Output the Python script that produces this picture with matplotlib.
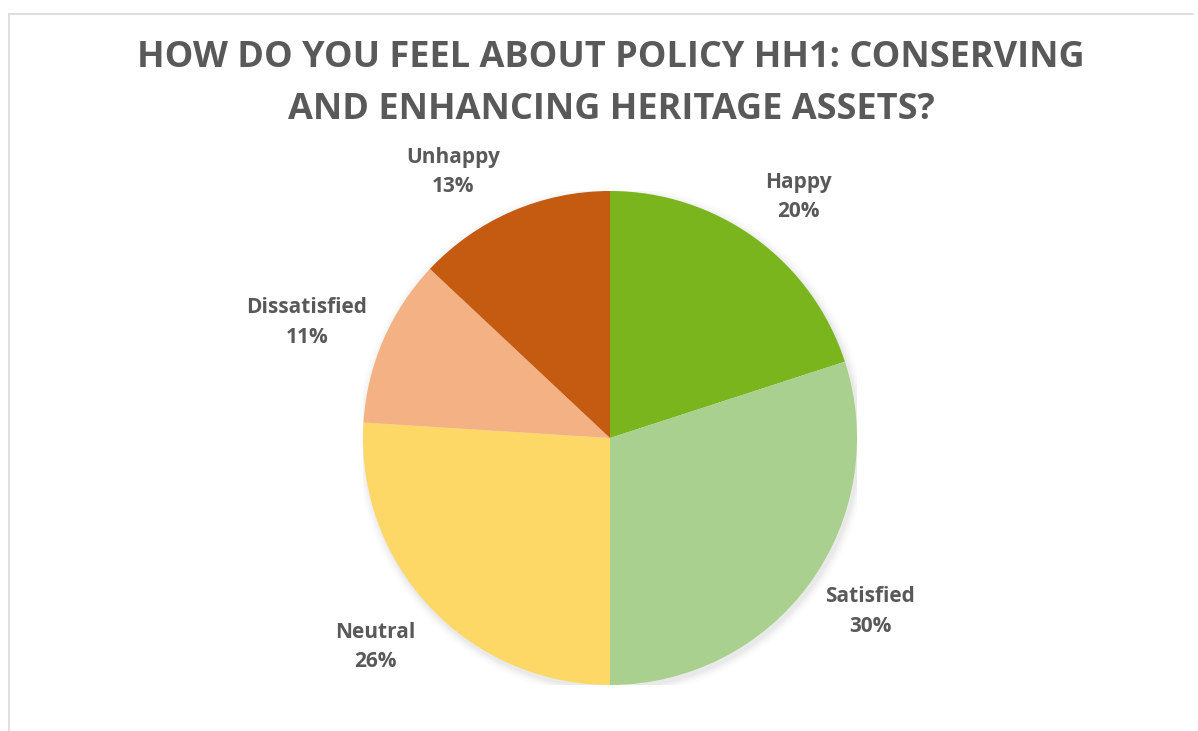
import matplotlib
matplotlib.use("Agg")
import matplotlib.pyplot as plt
from matplotlib.patches import Circle
import numpy as np

# Survey responses
categories = ["Happy", "Satisfied", "Neutral", "Dissatisfied", "Unhappy"]
shares = [20, 30, 26, 11, 13]
colors = ["#7AB51D", "#A9D08E", "#FDD866", "#F4B183", "#C55A11"]
title = "HOW DO YOU FEEL ABOUT POLICY HH1: CONSERVING\nAND ENHANCING HERITAGE ASSETS?"

# Label centres, in units of the pie radius
label_xy = [(0.761, 0.976), (1.053, -0.704), (-0.951, -0.846),
            (-1.227, 0.466), (-0.636, 1.077)]

W, H = 1198, 731
fig = plt.figure(figsize=(W / 100, H / 100), dpi=100)
fig.patch.set_facecolor("white")

text_color = "#595959"
font = ["Open Sans", "DejaVu Sans"]

# Chart frame (top and left edges)
fig.add_artist(plt.Line2D([9 / W, 1193 / W], [1 - 14 / H, 1 - 14 / H],
                          color="#D9D9D9", lw=1.2))
fig.add_artist(plt.Line2D([9 / W, 9 / W], [0, 1 - 14 / H],
                          color="#D9D9D9", lw=1.2))

fig.text(611 / W, 1 - 84 / H, title, ha="center", va="center",
         fontsize=26, fontweight="bold", color=text_color, family=font,
         linespacing=1.58)

cx, cy, r = 610, 438, 247
ax = fig.add_axes([(cx - r) / W, 1 - (cy + r) / H, 2 * r / W, 2 * r / H])
ax.axis("off")

# soft shadow under the pie
for i, a in enumerate(np.linspace(0.05, 0.012, 6)):
    ax.add_patch(Circle((0.008, -0.012), 1.0 + 0.006 * (i + 1),
                        color="black", alpha=a * 0.5, lw=0, zorder=0))

wedges, _ = ax.pie(shares, colors=colors, startangle=90, counterclock=False,
                   radius=1.0, wedgeprops=dict(linewidth=0))
for w in wedges:
    w.set_zorder(2)
ax.set_xlim(-1, 1)
ax.set_ylim(-1, 1)
ax.set_aspect("equal")

for name, val, (lx, ly) in zip(categories, shares, label_xy):
    ax.text(lx, ly, f"{name}\n{val}%", ha="center", va="center",
            fontsize=15, fontweight="bold", color=text_color,
            family=font, linespacing=1.55, clip_on=False)

fig.savefig("out.png", dpi=100, facecolor="white")
